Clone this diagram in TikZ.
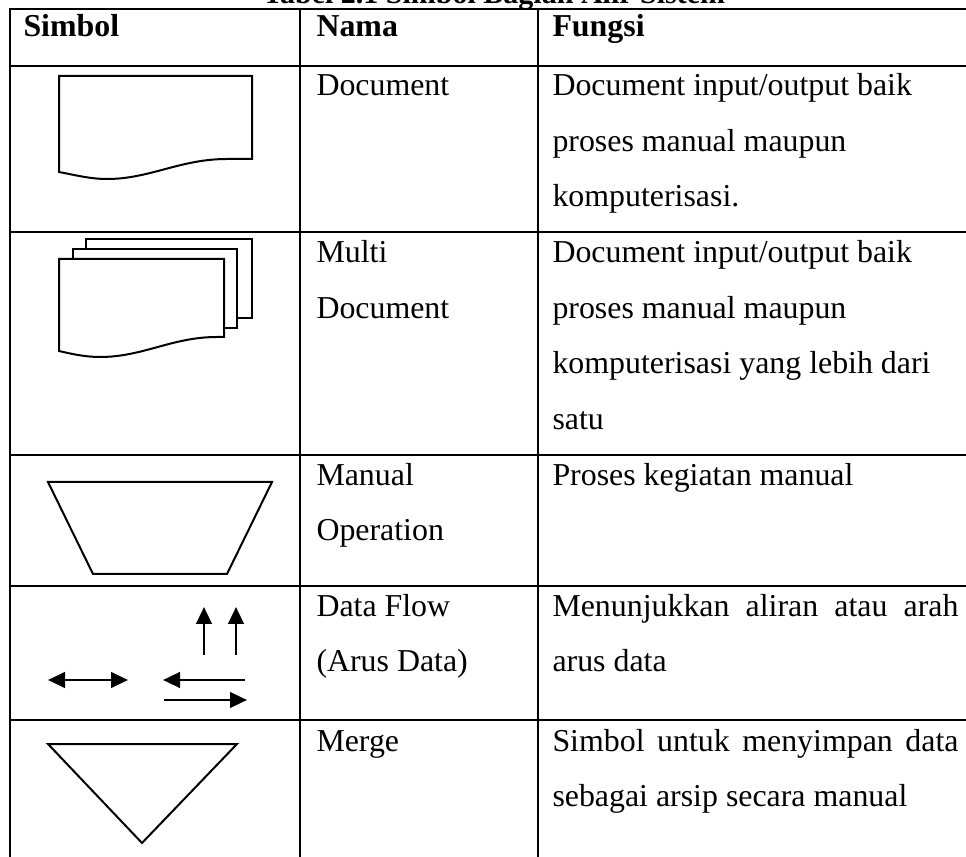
\documentclass[tikz,border=0pt]{standalone}
\usepackage{fontspec}
\setmainfont{Liberation Serif}
\usetikzlibrary{arrows.meta,positioning}

\begin{document}
\begin{tikzpicture}[
    x=0.4pt, y=-0.4pt,
    rule/.style={line width=1pt, line cap=rect},
    symb/.style={line width=0.8pt, line join=miter, fill=white},
    flow/.style={line width=1.1pt, -{Triangle[length=6.8pt,width=6.2pt]}},
    hcell/.style={anchor=base west, inner sep=0pt,
                font=\fontsize{12.75}{15}\selectfont\bfseries},
    cell/.style={anchor=base west, inner sep=0pt,
                font=\fontsize{12.75}{15}\selectfont},
    >=Triangle
]
\useasboundingbox (0,0) rectangle (966,857);

% Title
\node[anchor=base, inner sep=0pt, font=\fontsize{12}{14}\selectfont\bfseries] (title) at (494,4) {Tabel 2.1 Simbol Bagian Alir Sistem};

% Table rules
\foreach \y in {9,66,232,455,586,720}
    \draw[rule] (10,\y) -- (966,\y);
\foreach \x in {10,300,538}
    \draw[rule] (\x,9) -- (\x,857);

% Header
\node[hcell] (hsimbol) at (23,37) {Simbol};
\node[hcell] (hnama) at (316,37) {Nama};
\node[hcell] (hfungsi) at (552,37) {Fungsi};

% Row 1: document
\draw[symb] (59,76) -- (252,76) -- (252,159) -- (227,159)
    .. controls (180,159) and (150,179) .. (107,179)
    .. controls (90,179) and (75,175) .. (59,172) -- cycle;
\node[cell] (docname) at (316,96) {Document};
\node[cell] (docfn1) at (552,96) {Document input/output baik};
\node[cell] (docfn2) at (552,152) {proses manual maupun};
\node[cell] (docfn3) at (552,207) {komputerisasi.};

% Row 2: multi document
\draw[symb] (86,239) rectangle (252,318);
\draw[symb] (73,249) rectangle (237,328);
\draw[symb] (59,259) -- (224,259) -- (224,337) -- (217,337)
    .. controls (172,337) and (143,357) .. (100,357)
    .. controls (85,357) and (72,354) .. (59,351) -- cycle;
\node[cell] (multiname1) at (316,263) {Multi};
\node[cell] (multiname2) at (316,319) {Document};
\node[cell] (multifn1) at (552,263) {Document input/output baik};
\node[cell] (multifn2) at (552,319) {proses manual maupun};
\node[cell] (multifn3) at (552,374) {komputerisasi yang lebih dari};
\node[cell] (multifn4) at (552,430) {satu};

% Row 3: manual operation
\draw[symb] (48,482) -- (272,482) -- (227,574) -- (93,574) -- cycle;
\node[cell] (manname1) at (316,486) {Manual};
\node[cell] (manname2) at (316,541) {Operation};
\node[cell] (manfn1) at (552,486) {Proses kegiatan manual};

% Row 4: data flow
\draw[flow, {Triangle[length=6.8pt,width=6.2pt]}-{Triangle[length=6.8pt,width=6.2pt]}] (48,680) -- (128,680);
\draw[flow] (204,655) -- (204,607);
\draw[flow] (236,655) -- (236,607);
\draw[flow] (245,680) -- (163,680);
\draw[flow] (164,700) -- (247,700);
\node[cell] (flowname1) at (316,617) {Data Flow};
\node[cell] (flowname2) at (316,672) {(Arus Data)};
\node[cell] (flowfn1) at (552,617) {\makebox[162.4pt][s]{Menunjukkan aliran atau arah}};
\node[cell] (flowfn2) at (552,672) {arus data};

% Row 5: merge
\draw[symb] (48,744) -- (237,744) -- (142,843) -- cycle;
\node[cell] (mergename) at (316,751) {Merge};
\node[cell] (mergefn1) at (552,751) {\makebox[162.4pt][s]{Simbol untuk menyimpan data}};
\node[cell] (mergefn2) at (552,806) {sebagai arsip secara manual};
\end{tikzpicture}
\end{document}
